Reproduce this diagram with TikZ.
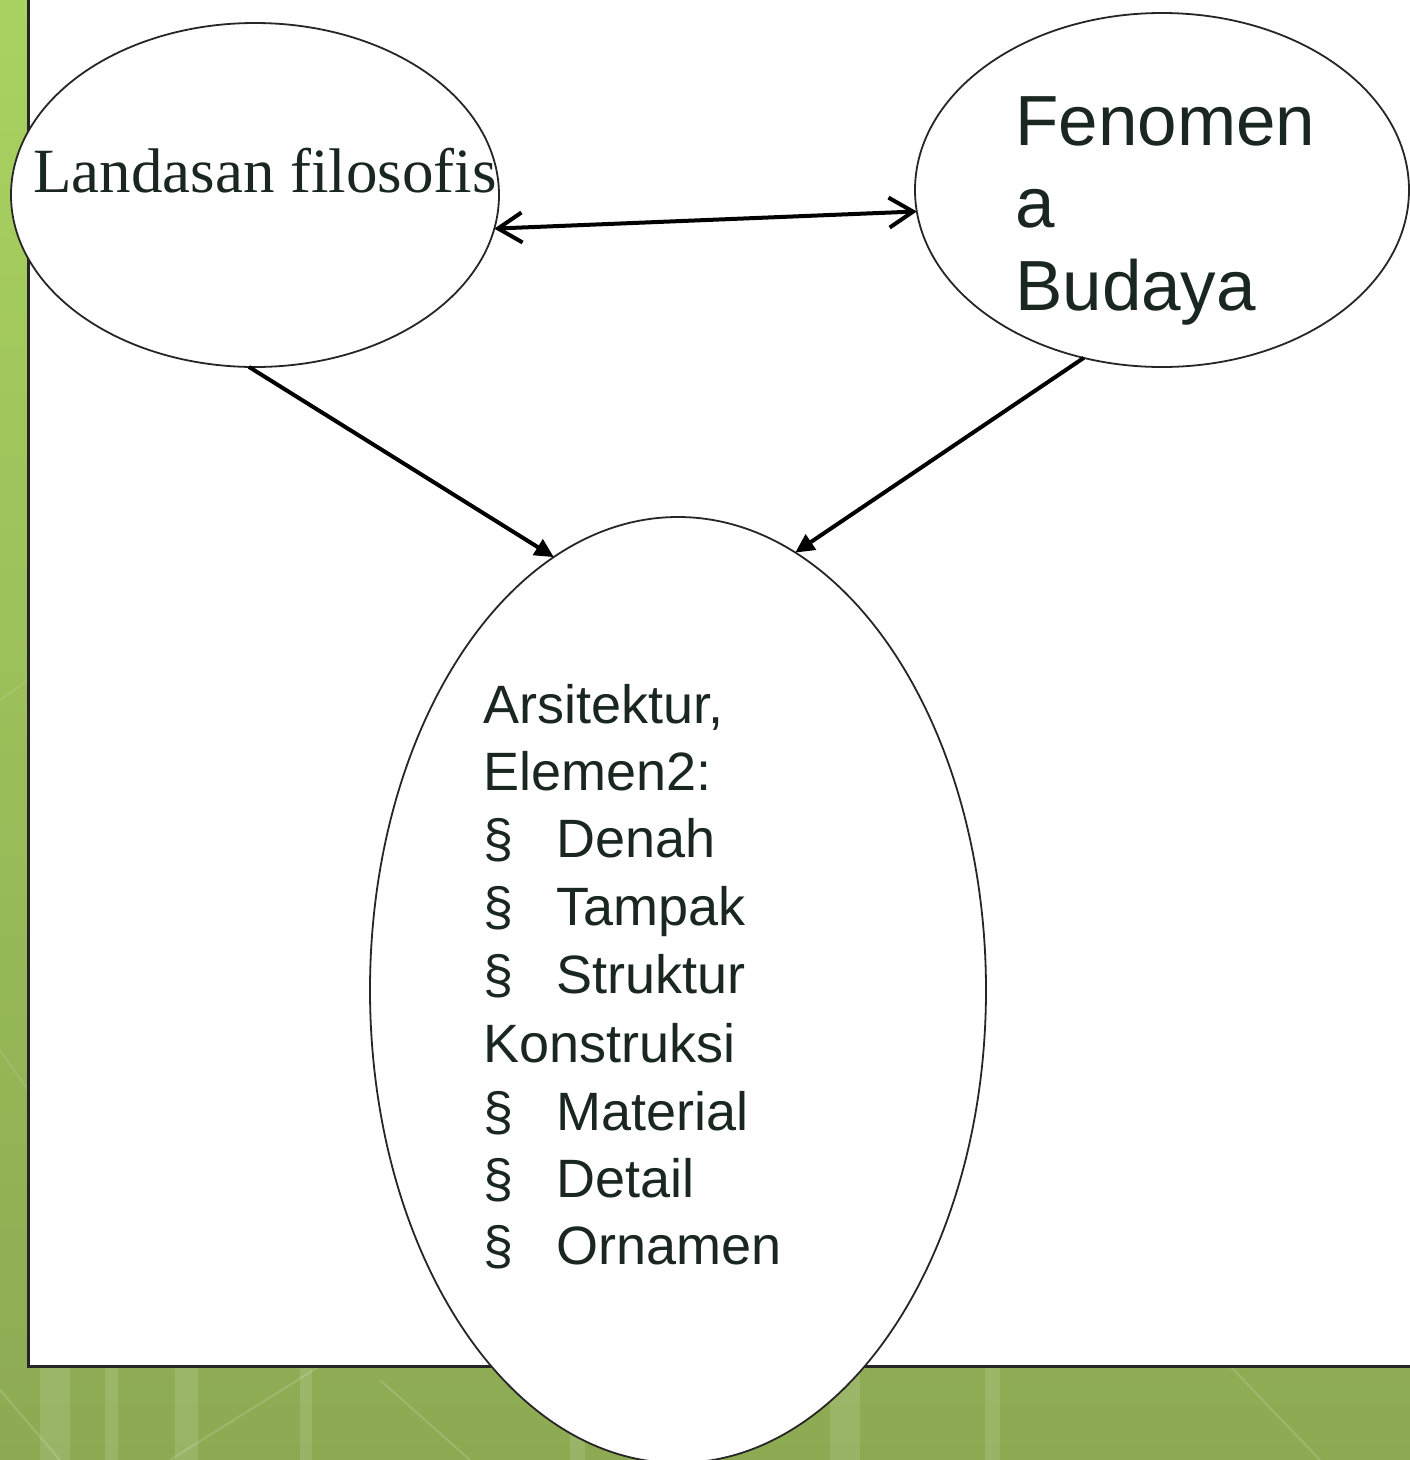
\documentclass[tikz,border=0pt]{standalone}
\usepackage{fontspec}
\setmainfont{Liberation Serif}
\newfontfamily\arialf{Liberation Sans}
\usetikzlibrary{arrows.meta,shapes.geometric}
\definecolor{bgtop}{HTML}{A9D260}
\definecolor{bgbot}{HTML}{8DAA53}
\definecolor{ink}{HTML}{1A2620}
\tikzset{
  ell/.style={ellipse,draw=black!85,line width=1.8pt,fill=white,inner sep=0pt,outer sep=0pt},
  serifbig/.style={anchor=base west,inner sep=0pt,text=ink,font=\fontsize{63}{76}\selectfont},
  sansbig/.style={anchor=base west,inner sep=0pt,text=ink,font=\arialf\fontsize{71}{83}\selectfont},
  sansmid/.style={anchor=base west,inner sep=0pt,text=ink,font=\arialf\fontsize{54}{67}\selectfont},
  dbl/.style={line width=4pt,black,{Straight Barb[length=24pt,width=30pt,line width=4pt]}-{Straight Barb[length=24pt,width=30pt,line width=4pt]}},
  down/.style={line width=4pt,black,-{Triangle[length=19pt,width=18pt]}},
  stripe/.style={white,opacity=0.12}
}
\newcommand{\sect}[1]{\makebox[73pt][l]{\S}#1}
\begin{document}
\begin{tikzpicture}[x=1pt,y=-1pt]
\useasboundingbox (0,0) rectangle (1410,1460);
% background
\shade[top color=bgtop,bottom color=bgbot] (0,0) rectangle (1410,1460);
\fill[stripe] (40,1366) rectangle (70,1460);
\fill[stripe] (105,1366) rectangle (118,1460);
\fill[stripe] (175,1366) rectangle (198,1460);
\fill[stripe] (300,1366) rectangle (312,1460);
\fill[stripe] (570,1366) rectangle (585,1460);
\fill[stripe] (830,1366) rectangle (860,1460);
\fill[stripe] (985,1366) rectangle (1000,1460);
\draw[white,opacity=0.15,line width=2pt] (0,1390) -- (60,1460);
\draw[white,opacity=0.15,line width=2pt] (170,1460) -- (320,1366);
\draw[white,opacity=0.15,line width=2pt] (380,1380) -- (470,1460);
\draw[white,opacity=0.15,line width=2pt] (1230,1366) -- (1320,1460);
\draw[white,opacity=0.10,line width=2pt] (0,700) -- (28,680);
\draw[white,opacity=0.10,line width=2pt] (0,1050) -- (28,1090);
% white panel
\fill[white] (28,-5) rectangle (1415,1366);
\draw[line width=3pt,black!85] (28,-5) -- (28,1366) -- (1415,1366);
% ellipses
\node[ell,minimum width=488pt,minimum height=344pt] (L) at (255,195) {};
\node[ell,minimum width=494pt,minimum height=354pt] (R) at (1162,190) {};
\node[ell,minimum width=616pt,minimum height=946pt] (B) at (678,990) {};
% texts
\node[serifbig] (Lt) at (33,192) {Landasan filosofis};
\node[sansbig] (Rt1) at (1015,145) {Fenomen};
\node[sansbig] (Rt2) at (1015,227) {a};
\node[sansbig] (Rt3) at (1015,310) {Budaya};
\node[sansmid] (B1) at (483,723) {Arsitektur,};
\node[sansmid] (B2) at (483,790) {Elemen2:};
\node[sansmid] (B3) at (483,857) {\sect{Denah}};
\node[sansmid] (B4) at (483,925) {\sect{Tampak}};
\node[sansmid] (B5) at (483,993) {\sect{Struktur}};
\node[sansmid] (B6) at (483,1062) {Konstruksi};
\node[sansmid] (B7) at (483,1130) {\sect{Material}};
\node[sansmid] (B8) at (483,1197) {\sect{Detail}};
\node[sansmid] (B9) at (483,1264) {\sect{Ornamen}};
% connectors
\draw[dbl] (L.352) -- (R.185.5);
\draw[down] (L.268.3) -- (B.106.6);
\draw[down] (R.245) -- (B.75);
\end{tikzpicture}
\end{document}
